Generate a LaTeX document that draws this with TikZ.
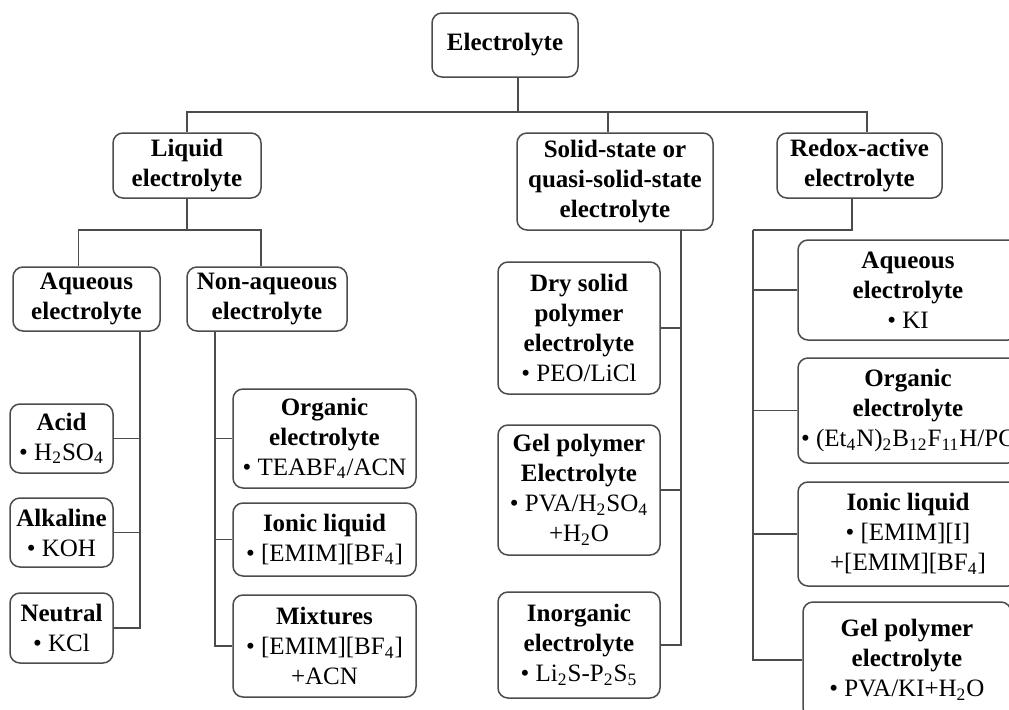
\documentclass[tikz,border=0pt]{standalone}
\usepackage{fontspec}
\setmainfont{Liberation Serif}
\usepackage{tikz}
\usetikzlibrary{positioning, calc}
\tikzstyle{box} = [rectangle, draw=black!70, line width=0.75pt, rounded corners=5pt, align=center, inner sep=1pt, font=\fontsize{12.5}{15}\selectfont]
\tikzstyle{link} = [draw=black!70, line width=0.75pt]

\begin{document}
\begin{tikzpicture}[x=0.5pt, y=-0.5pt]
    \useasboundingbox (0,0) rectangle (1009,709);
    \node (top) [box, minimum width=73pt, minimum height=32pt] at (505,45) {\textbf{Electrolyte}};

    % Main classes
    \node (liquid) [box, minimum width=74pt, minimum height=32.5pt] at (187,165.5) {\textbf{Liquid}\\\textbf{electrolyte}};
    \node (solid) [box, minimum width=98pt, minimum height=48.5pt] at (615,181.5) {\textbf{Solid-state or}\\\textbf{quasi-solid-state}\\\textbf{electrolyte}};
    \node (redox) [box, minimum width=82.5pt, minimum height=32.5pt] at (859.5,165.5) {\textbf{Redox-active}\\\textbf{electrolyte}};

    % Liquid electrolyte
    \node (aqueous) [box, minimum width=73.5pt, minimum height=32pt] at (86.5,299) {\textbf{Aqueous}\\\textbf{electrolyte}};
    \node (nonaq) [box, minimum width=80pt, minimum height=32pt] at (267,299) {\textbf{Non-aqueous}\\\textbf{electrolyte}};
    \node (acid) [box, minimum width=51.5pt, minimum height=34.5pt] at (61.5,438.5) {\textbf{Acid}\\\textbullet{} H\textsubscript{2}SO\textsubscript{4}};
    \node (alkaline) [box, minimum width=51.5pt, minimum height=34.5pt] at (61.5,532.5) {\textbf{Alkaline}\\\textbullet{} KOH};
    \node (neutral) [box, minimum width=51.5pt, minimum height=35pt] at (61.5,628) {\textbf{Neutral}\\\textbullet{} KCl};
    \node (organic) [box, minimum width=91.5pt, minimum height=49.5pt] at (324.5,438.5) {\textbf{Organic}\\\textbf{electrolyte}\\\textbullet{} TEABF\textsubscript{4}/ACN};
    \node (ionic) [box, minimum width=91.5pt, minimum height=36.5pt] at (324.5,539.5) {\textbf{Ionic liquid}\\\textbullet{} [EMIM][BF\textsubscript{4}]};
    \node (mixture) [box, minimum width=91.5pt, minimum height=51pt] at (324.5,646) {\textbf{Mixtures}\\\textbullet{} [EMIM][BF\textsubscript{4}]\\+ACN};

    % Solid-state electrolyte
    \node (dry) [box, minimum width=81pt, minimum height=66pt] at (579,328) {\textbf{Dry solid}\\\textbf{polymer}\\\textbf{electrolyte}\\\textbullet{} PEO/LiCl};
    \node (gel) [box, minimum width=81pt, minimum height=65pt] at (579,490) {\textbf{Gel polymer}\\\textbf{Electrolyte}\\\textbullet{} PVA/H\textsubscript{2}SO\textsubscript{4}\\+H\textsubscript{2}O};
    \node (inorganic) [box, minimum width=81pt, minimum height=53pt] at (579,645) {\textbf{Inorganic}\\\textbf{electrolyte}\\\textbullet{} Li\textsubscript{2}S-P\textsubscript{2}S\textsubscript{5}};

    % Redox-active electrolyte
    \node (raq) [box, minimum width=110pt, minimum height=50pt] at (908,290) {\textbf{Aqueous}\\\textbf{electrolyte}\\\textbullet{} KI};
    \node (rorg) [box, minimum width=110pt, minimum height=52.5pt] at (908,410.5) {\textbf{Organic}\\\textbf{electrolyte}\\\textbullet{} (Et\textsubscript{4}N)\textsubscript{2}B\textsubscript{12}F\textsubscript{11}H/PC};
    \node (rion) [box, minimum width=110pt, minimum height=52pt] at (908,534) {\textbf{Ionic liquid}\\\textbullet{} [EMIM][I]\\+[EMIM][BF\textsubscript{4}]};
    \node (rgel) [box, minimum width=104pt, minimum height=58pt] at (907,660) {\textbf{Gel polymer}\\\textbf{electrolyte}\\\textbullet{} PVA/KI+H\textsubscript{2}O};

    % Connectors
    \coordinate (bus0) at (518,112);
    \coordinate (bus1) at (187,230);
    \coordinate (bus2) at (753,230);
    \draw [link] (top.south -| bus0) -- (bus0);
    \draw [link] (bus0) -| (liquid.north);
    \draw [link] (bus0) -| ([xshift=-3.5pt]solid.north);
    \draw [link] (bus0) -| ([xshift=3.75pt]redox.north);

    \draw [link] (liquid.south) -- (bus1);
    \draw [link] (bus1) -| ([xshift=-4pt]aqueous.north);
    \draw [link] (bus1) -| ([xshift=-3pt]nonaq.north);
    \foreach \n in {acid, alkaline, neutral}
        \draw [link] ([xshift=26.75pt]aqueous.south) |- (\n.east);
    \foreach \n in {organic, ionic, mixture}
        \draw [link] ([xshift=-26pt]nonaq.south) |- (\n.west);

    \foreach \n in {dry, gel, inorganic}
        \draw [link] ([xshift=33pt]solid.south) |- (\n.east);

    \draw [link] ([xshift=-3.75pt]redox.south) |- (bus2);
    \foreach \n in {raq, rorg, rion, rgel}
        \draw [link] (bus2) |- (\n.west);
\end{tikzpicture}
\end{document}
